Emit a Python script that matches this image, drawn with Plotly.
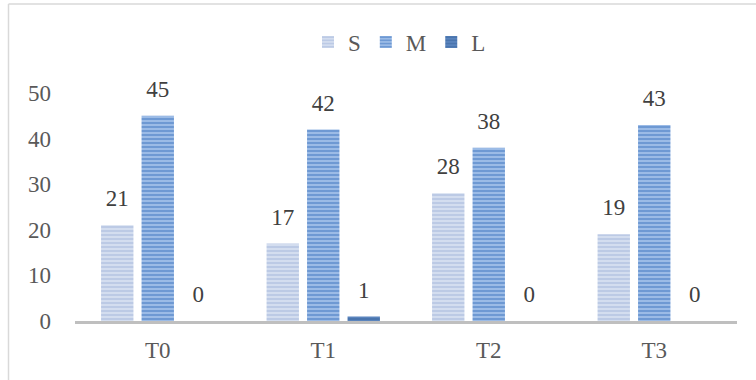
import plotly.graph_objects as go

categories = ["T0", "T1", "T2", "T3"]
series_names = ["S", "M", "L"]
s_values = [21, 17, 28, 19]
m_values = [45, 42, 38, 43]
l_values = [0, 1, 0, 0]

bg_colors = ["#d3ddef", "#9bbbe6", "#5a84bd"]
fg_colors = ["#a6b8db", "#4277bf", "#3a659f"]

FONT = "Liberation Serif"
FS = 23
W, H = 756, 380
ML, MR, MT, MB = 75, 19, 93, 59
LABEL_GAP = 2.4  # extra space (axis units) between bar top and its value label

fig = go.Figure()
for i, (name, vals, bg, fg) in enumerate(zip(series_names, [s_values, m_values, l_values], bg_colors, fg_colors)):
    fig.add_trace(go.Bar(
        x=categories, y=vals, name=name, offsetgroup=str(i),
        marker=dict(color=bg, line=dict(width=0),
                    pattern=dict(shape="-", fgcolor=fg, bgcolor=bg, size=4, solidity=0.5, fillmode="overlay")),
        hoverinfo="y",
    ))
    # transparent carrier bar for the value label, placed just above each bar
    fig.add_trace(go.Bar(
        x=categories, y=[LABEL_GAP] * len(vals), base=vals, offsetgroup=str(i),
        marker=dict(color="rgba(0,0,0,0)", line=dict(width=0)),
        text=[str(v) for v in vals], textposition="outside",
        textfont=dict(family=FONT, size=FS, color="#404040"),
        cliponaxis=False, showlegend=False, hoverinfo="skip",
    ))

pw = W - ML - MR
ph = H - MT - MB
def px_x(p):
    return (p - ML) / pw
def px_y(p):
    return (H - MB - p) / ph

fig.add_shape(type="line", xref="paper", yref="paper",
              x0=px_x(8.5), x1=px_x(8.5), y0=px_y(4), y1=px_y(400),
              line=dict(color="#d9d9d9", width=1.5))
fig.add_shape(type="line", xref="paper", yref="paper",
              x0=px_x(8.5), x1=px_x(800), y0=px_y(4), y1=px_y(4),
              line=dict(color="#d9d9d9", width=1.5))

fig.update_layout(
    width=W, height=H,
    margin=dict(l=ML, r=MR, t=MT, b=MB, pad=0),
    paper_bgcolor="white", plot_bgcolor="white",
    barmode="group", bargap=0.266, bargroupgap=0.2,
    showlegend=True,
    legend=dict(orientation="h", x=px_x(308), xanchor="left", y=px_y(42), yanchor="middle",
                font=dict(family=FONT, size=FS, color="#595959"), itemwidth=30,
                bgcolor="rgba(0,0,0,0)"),
    xaxis=dict(showgrid=False, showline=True, linecolor="#bfbfbf", linewidth=2.5,
               ticks="", tickfont=dict(family=FONT, size=FS, color="#595959"),
               ticklabelstandoff=7, zeroline=False),
    yaxis=dict(range=[0, 50], dtick=10, showgrid=False, showline=False, zeroline=False,
               ticks="", tickfont=dict(family=FONT, size=FS, color="#595959"),
               ticklabelstandoff=23),
)

fig.write_html("out.html")
